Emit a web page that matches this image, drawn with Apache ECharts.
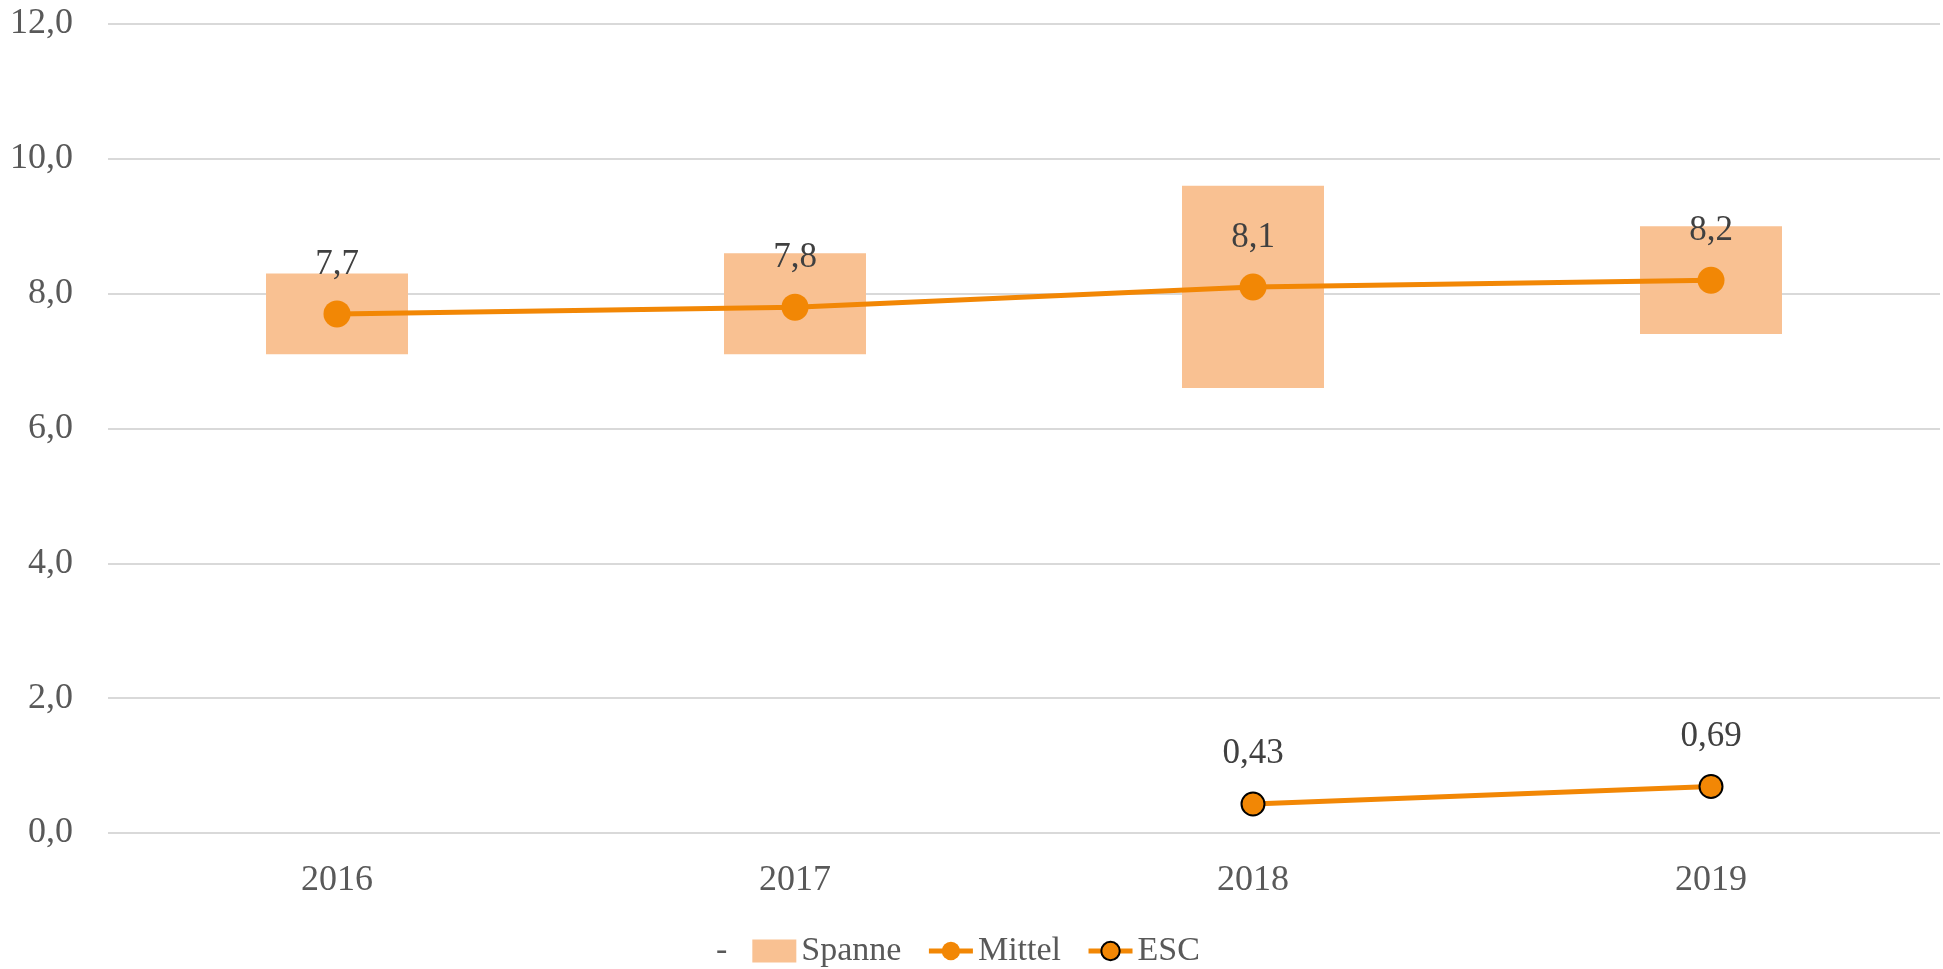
<!DOCTYPE html>
<html>
<head>
<meta charset="utf-8">
<script src="https://cdn.jsdelivr.net/npm/echarts@6/dist/echarts.min.js"></script>
<style>
    html, body { margin: 0; padding: 0; background: #fff; }
    #chart { width: 1943px; height: 969px; }
</style>
</head>
<body>
<div id="chart"></div>
<script>
    var years = ['2016', '2017', '2018', '2019'];
    var spanLow = [7.1, 7.1, 6.6, 7.4];   //Spanne unten
    var spanHigh = [8.3, 8.6, 9.6, 9.0];  //Spanne oben
    var mittel = [7.7, 7.8, 8.1, 8.2];
    var esc = [null, null, 0.43, 0.69];
    var yTicks = [0, 2, 4, 6, 8, 10, 12];

    var font = 'Liberation Serif';
    var orange = '#F28705';
    var spanColor = '#F9C192';

    function comma(v, digits) {
        return v.toFixed(digits).replace('.', ',');
    }

    var spanSize = spanHigh.map(function (h, i) { return +(h - spanLow[i]).toFixed(2); });

    var chart = echarts.init(document.getElementById('chart'));
    chart.setOption({
        animation: false,
        grid: { left: 108, right: 3, top: 24, bottom: 136 },
        legend: {
            top: 929,
            left: 662,
            itemGap: 25,
            itemWidth: 44,
            itemHeight: 23,
            textStyle: { fontFamily: font, fontSize: 34, color: '#595959' },
            data: [
                { name: '-', itemStyle: { color: 'rgba(0,0,0,0)' } },
                { name: 'Spanne', icon: 'rect' },
                { name: 'Mittel', lineStyle: { width: 5 } },
                { name: 'ESC', lineStyle: { width: 5 } }
            ]
        },
        xAxis: {
            type: 'category',
            data: years,
            axisLine: { show: false },
            axisTick: { show: false },
            axisLabel: { fontFamily: font, fontSize: 36, color: '#595959', margin: 30 }
        },
        yAxis: {
            type: 'value',
            min: yTicks[0],
            max: yTicks[yTicks.length - 1],
            interval: 2,
            axisLine: { show: false },
            axisTick: { show: false },
            splitLine: { lineStyle: { color: '#D9D9D9', width: 2 } },
            axisLabel: {
                fontFamily: font, fontSize: 36, color: '#595959', margin: 35,
                formatter: function (v) { return comma(v, 1); }
            }
        },
        series: [
            {
                name: '-', type: 'bar', stack: 'span', data: spanLow,
                barWidth: '31%',
                itemStyle: { color: 'rgba(0,0,0,0)' }
            },
            {
                name: 'Spanne', type: 'bar', stack: 'span', data: spanSize,
                barWidth: '31%',
                itemStyle: { color: spanColor }
            },
            {
                name: 'Mittel', type: 'line', data: mittel,
                symbol: 'circle', symbolSize: 27,
                lineStyle: { color: orange, width: 5 },
                itemStyle: { color: orange },
                label: {
                    show: true, position: 'top', distance: 18,
                    fontFamily: font, fontSize: 35, color: '#404040',
                    formatter: function (p) { return comma(p.value, 1); }
                },
                z: 5
            },
            {
                name: 'ESC', type: 'line', data: esc,
                symbol: 'circle', symbolSize: 23,
                lineStyle: { color: orange, width: 5 },
                itemStyle: { color: orange, borderColor: '#000', borderWidth: 2 },
                label: {
                    show: true, position: 'top', distance: 20,
                    fontFamily: font, fontSize: 35, color: '#404040',
                    formatter: function (p) { return comma(p.value, 2); }
                },
                z: 5
            }
        ]
    });
</script>
</body>
</html>
